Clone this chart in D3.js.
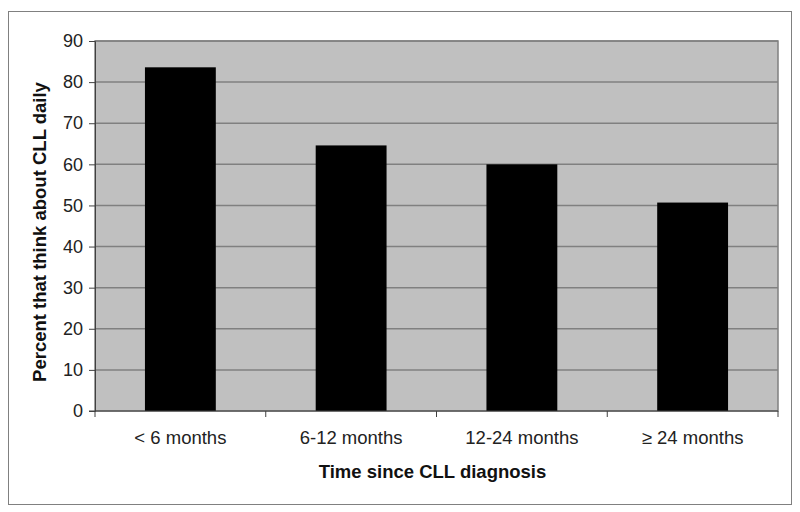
<!DOCTYPE html>
<html>
<head>
<meta charset="utf-8">
<script src="https://cdn.jsdelivr.net/npm/d3@7"></script>
<style>
  body { margin: 0; background: #fff; }
  svg { display: block; font-family: Arial, "Liberation Sans", sans-serif; }
</style>
</head>
<body>
<svg id="chart" width="800" height="512"></svg>
<script>
const categories = ['< 6 months', '6-12 months', '12-24 months', '\u2265 24 months'];
const values = [83.6, 64.6, 60.0, 50.7];
const yTicks = [0, 10, 20, 30, 40, 50, 60, 70, 80, 90];

const width = 800;
const height = 512;
const margin = { top: 41, right: 22, bottom: 101, left: 95 };
const plotW = width - margin.left - margin.right;
const plotH = height - margin.top - margin.bottom;

const svg = d3.select('#chart');

// outer frame
svg.append('rect')
  .attr('x', 8.5).attr('y', 11.5)
  .attr('width', 783).attr('height', 493)
  .attr('fill', '#fff')
  .attr('stroke', '#808080');

const g = svg.append('g')
  .attr('transform', `translate(${margin.left},${margin.top})`);

const x = d3.scaleBand()
  .domain(categories)
  .range([0, plotW])
  .paddingInner(0.585)
  .paddingOuter(0.2925);

const y = d3.scaleLinear()
  .domain([0, 90])
  .range([plotH, 0]);

// plot background
g.append('rect')
  .attr('width', plotW).attr('height', plotH)
  .attr('fill', '#c0c0c0')
  .attr('stroke', '#808080')
  .attr('stroke-width', 1.5);

// gridlines
g.append('g')
  .selectAll('line')
  .data(yTicks.filter(d => d > 0))
  .enter().append('line')
  .attr('x1', 0).attr('x2', plotW)
  .attr('y1', d => y(d)).attr('y2', d => y(d))
  .attr('stroke', '#808080')
  .attr('stroke-width', 1.5);

// bars
g.append('g')
  .selectAll('rect')
  .data(values)
  .enter().append('rect')
  .attr('x', (d, i) => x(categories[i]))
  .attr('y', d => y(d))
  .attr('width', x.bandwidth())
  .attr('height', d => plotH - y(d))
  .attr('fill', '#000');

// y axis
const yAxis = g.append('g')
  .call(d3.axisLeft(y).tickValues(yTicks).tickSize(6).tickPadding(6));
yAxis.select('.domain').attr('stroke', '#404040');
yAxis.selectAll('.tick line').attr('stroke', '#404040');
yAxis.selectAll('text')
  .attr('font-size', 18)
  .attr('fill', '#222');

// x axis: ticks at category boundaries
const xAxis = g.append('g')
  .attr('transform', `translate(0,${plotH})`);
xAxis.append('line')
  .attr('x1', -6).attr('x2', plotW)
  .attr('stroke', '#404040');
xAxis.selectAll('.bound')
  .data(d3.range(categories.length + 1))
  .enter().append('line')
  .attr('class', 'bound')
  .attr('x1', i => i * x.step()).attr('x2', i => i * x.step())
  .attr('y1', 0).attr('y2', 6)
  .attr('stroke', '#404040');
xAxis.selectAll('.lbl')
  .data(categories)
  .enter().append('text')
  .attr('class', 'lbl')
  .attr('x', d => x(d) + x.bandwidth() / 2)
  .attr('y', 33)
  .attr('text-anchor', 'middle')
  .attr('font-size', 18.5)
  .attr('fill', '#222')
  .text(d => d);

// axis titles
svg.append('text')
  .attr('x', margin.left + plotW / 2 - 4)
  .attr('y', 478)
  .attr('text-anchor', 'middle')
  .attr('font-size', 18.5)
  .attr('font-weight', 'bold')
  .attr('fill', '#111')
  .text('Time since CLL diagnosis');

svg.append('text')
  .attr('transform', `translate(46,232) rotate(-90)`)
  .attr('text-anchor', 'middle')
  .attr('font-size', 18.5)
  .attr('font-weight', 'bold')
  .attr('fill', '#111')
  .text('Percent that think about CLL daily');
</script>
</body>
</html>
